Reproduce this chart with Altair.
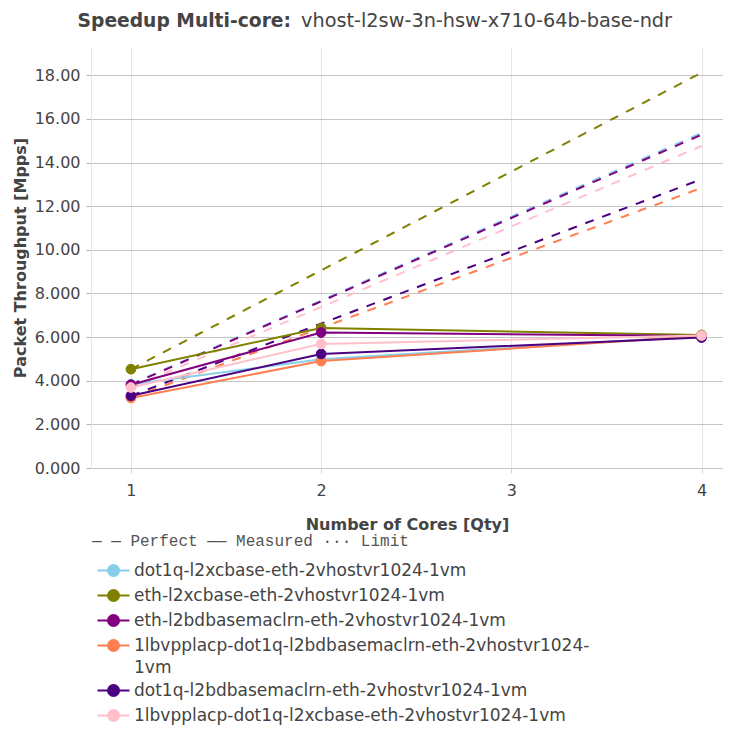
import altair as alt
import pandas as pd

# ---- data ----
cores = [1, 2, 4]
tests = [
    "dot1q-l2xcbase-eth-2vhostvr1024-1vm",
    "eth-l2xcbase-eth-2vhostvr1024-1vm",
    "eth-l2bdbasemaclrn-eth-2vhostvr1024-1vm",
    "1lbvpplacp-dot1q-l2bdbasemaclrn-eth-2vhostvr1024-1vm",
    "dot1q-l2bdbasemaclrn-eth-2vhostvr1024-1vm",
    "1lbvpplacp-dot1q-l2xcbase-eth-2vhostvr1024-1vm",
]
colors = ["#87ceeb", "#808000", "#800080", "#ff7f50", "#4b0082", "#ffc0cb"]
measured = [
    [3.84, 4.98, 6.05],
    [4.53, 6.42, 6.10],
    [3.82, 6.21, 6.05],
    [3.21, 4.90, 6.05],
    [3.31, 5.23, 5.98],
    [3.69, 5.69, 6.07],
]
perfect = [
    [3.84, 7.68, 15.36],
    [4.53, 9.06, 18.12],
    [3.82, 7.64, 15.28],
    [3.21, 6.42, 12.84],
    [3.31, 6.62, 13.24],
    [3.69, 7.38, 14.76],
]
y_ticks = [0, 2, 4, 6, 8, 10, 12, 14, 16, 18]
x_ticks = [1, 2, 3, 4]
title_bold = "Speedup Multi-core:"
title_rest = "vhost-l2sw-3n-hsw-x710-64b-base-ndr"
legend_header = "— — Perfect —— Measured ··· Limit"

rows = []
for t, m, p in zip(tests, measured, perfect):
    for c, mv, pv in zip(cores, m, p):
        rows.append({"test": t, "cores": c, "measured": mv, "perfect": pv})
df = pd.DataFrame(rows)

TXT = "#444444"
long_label = tests[3]
label_expr = (
    f"datum.label == '{long_label}' ? "
    "['1lbvpplacp-dot1q-l2bdbasemaclrn-eth-2vhostvr1024-', '1vm'] : datum.label"
)

legend = alt.Legend(
    title=legend_header,
    orient="none",
    legendX=1,
    legendY=486,
    direction="vertical",
    padding=0,
    titleFont="Liberation Mono",
    titleFontSize=16,
    titleFontWeight="normal",
    titleColor="#555555",
    titlePadding=13,
    titleLimit=0,
    labelFont="DejaVu Sans",
    labelFontSize=17,
    labelColor=TXT,
    labelLimit=0,
    labelOffset=25,
    labelExpr=label_expr,
    rowPadding=4,
    symbolSize=144,
    symbolType="M-0.5,0L4.83,0M1.25,0A0.92,0.92 0 1,1 3.09,0A0.92,0.92 0 1,1 1.25,0Z",
    symbolStrokeWidth=2,
    symbolOpacity=1,
)

xenc = alt.X(
    "cores:Q",
    scale=alt.Scale(domain=[0.79, 4.113], nice=False, zero=False),
    axis=alt.Axis(
        values=x_ticks, format="d", title="Number of Cores [Qty]",
        grid=True, gridColor="#e6e6e6", domain=False,
        tickSize=5, tickColor="#d0d0d0", labelPadding=9, titlePadding=18,
    ),
)
yscale = alt.Scale(domain=[0, 19.3], nice=False)
yaxis = alt.Axis(
    values=y_ticks, title="Packet Throughput [Mpps]",
    labelExpr="datum.value == 0 ? '0.000' : format(datum.value, '.4r')",
    grid=True, gridColor="#c4c4c4", domain=True, domainColor="#e6e6e6",
    tickSize=5, tickColor="#b0b0b0", labelPadding=6, titlePadding=6,
)
cscale = alt.Scale(domain=tests, range=colors)

base = alt.Chart(df)

perf = base.mark_line(strokeDash=[9, 9], strokeWidth=2).encode(
    x=xenc,
    y=alt.Y("perfect:Q", scale=yscale, axis=yaxis),
    color=alt.Color("test:N", scale=cscale),
)
meas = base.mark_line(strokeWidth=2).encode(
    x=xenc,
    y=alt.Y("measured:Q", scale=yscale, axis=yaxis),
    color=alt.Color("test:N", scale=cscale),
)
pts = base.mark_circle(size=95, opacity=1, strokeWidth=1).encode(
    x=xenc,
    y=alt.Y("measured:Q", scale=yscale, axis=yaxis),
    color=alt.Color("test:N", scale=cscale, legend=legend),
    stroke=alt.Stroke("test:N", scale=cscale, legend=legend),
)

t1 = alt.Chart(pd.DataFrame({"t": [title_bold]})).mark_text(
    font="DejaVu Sans", fontSize=18.7, fontWeight="bold", color=TXT,
    align="right", baseline="alphabetic",
).encode(text="t:N", x=alt.value(200), y=alt.value(-20))
t2 = alt.Chart(pd.DataFrame({"t": [title_rest]})).mark_text(
    font="DejaVu Sans", fontSize=19.3, fontWeight="normal", color=TXT,
    align="left", baseline="alphabetic",
).encode(text="t:N", x=alt.value(210), y=alt.value(-20))

chart = alt.layer(perf, meas, pts, t1, t2).properties(
    width=632,
    height=421,
    autosize=alt.AutoSizeParams(type="none"),
    padding={"left": 83, "top": 39, "right": 0, "bottom": 257},
    background="white",
).configure(
    style={"guide-label": {"lineHeight": 22}},
).configure_view(stroke=None).configure_axis(
    labelFont="DejaVu Sans", labelFontSize=16, labelColor=TXT,
    titleFont="DejaVu Sans", titleFontSize=16, titleFontWeight="bold", titleColor=TXT,
    gridWidth=1,
)

chart.save("out.html", embed_options={"renderer": "svg", "actions": False})
